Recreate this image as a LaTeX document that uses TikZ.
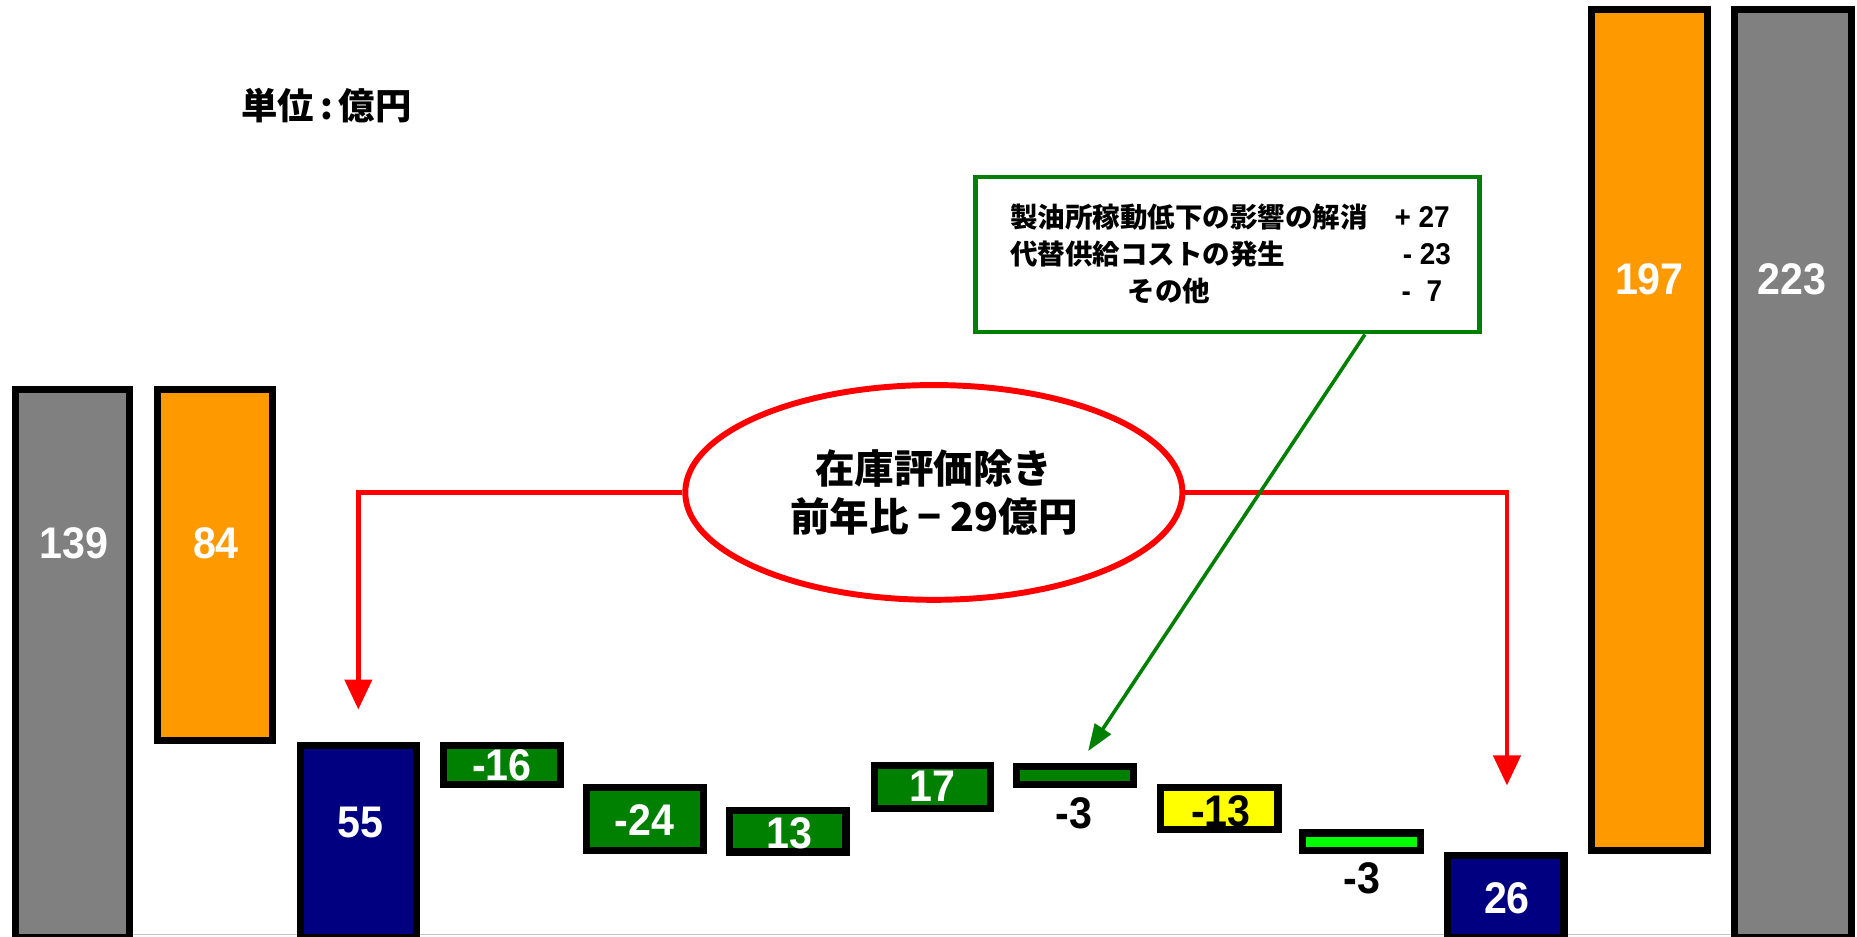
\documentclass[tikz,border=0pt]{standalone}
\usepackage{fontspec}
\setmainfont{Liberation Sans}
\newfontfamily\numf{Liberation Sans}[FakeStretch=0.93]
\newfontfamily\cjk{Noto Sans CJK JP}
\usetikzlibrary{arrows.meta,shapes.geometric,calc}
\definecolor{cgray}{HTML}{808080}
\definecolor{corange}{HTML}{FF9900}
\definecolor{cnavy}{HTML}{000080}
\definecolor{cgreen}{HTML}{008000}
\definecolor{cyellow}{HTML}{FFFF00}
\definecolor{clime}{HTML}{00FF00}
\definecolor{cred}{HTML}{FF0000}
\newcommand{\barbox}[6]{%
  \node[barst, fill=#6, minimum width={(#4-#2-6)*0.75pt}, minimum height={(#5-#3-6)*0.75pt}] (#1) at ({(#2+#4)/2},{(#3+#5)/2}) {};}
\begin{document}
\begin{tikzpicture}[x=0.75pt,y=-0.75pt,
  barst/.style={draw=black, line width=4.5pt, inner sep=0pt, outer sep=0pt},
  numw/.style={font=\numf\bfseries\fontsize{28}{28}\selectfont, text=white, inner sep=0pt},
  numb/.style={font=\numf\bfseries\fontsize{28}{28}\selectfont, text=black, inner sep=0pt},
  boxt/.style={font=\cjk\bfseries\fontsize{17.4}{20}\selectfont, inner sep=0pt},
  boxn/.style={font=\numf\bfseries\fontsize{19}{21}\selectfont, inner sep=0pt},
  redl/.style={draw=cred, line width=3pt},
  grl/.style={draw=cgreen, line width=2.25pt}]
\useasboundingbox[fill=white] (0,0) rectangle (1565,789);
% axis line
\draw[gray!45, line width=0.9pt] (10,787.5) -- (1563,787.5);
% bars
\barbox{g1}{10}{325}{112}{793}{cgray}
\barbox{o1}{130}{325}{233}{627}{corange}
\barbox{n1}{250}{625}{354}{793}{cnavy}
\barbox{d1}{371}{625}{475}{664}{cgreen}
\barbox{d2}{491}{661}{596}{720}{cgreen}
\barbox{d3}{612}{680}{716}{721}{cgreen}
\barbox{d4}{734}{642}{838}{684}{cgreen}
\barbox{d5}{854}{643}{958}{664}{cgreen}
\barbox{d6}{975}{661}{1080}{702}{cyellow}
\barbox{d7}{1095}{699}{1200}{720}{clime}
\barbox{n2}{1217}{718}{1321}{793}{cnavy}
\barbox{o2}{1338}{5}{1442}{720}{corange}
\barbox{g2}{1459}{5}{1563}{793}{cgray}
% bar labels
\node[numw] (lg1) at (62,458) {139};
\node[numw] (lo1) at (182,458) {84};
\node[numw] (ln1) at (304,693) {55};
\node[numw] (ld1) at (423,645) {-16};
\node[numw] (ld2) at (543,691) {-24};
\node[numw] (ld3) at (665,702) {13};
\node[numw] (ld4) at (786,663) {17};
\node[numb] (ld5) at (905,685) {-3};
\node[numb] (ld6) at (1029,684) {-13};
\node[numb] (ld7) at (1148,740) {-3};
\node[numw] (ln2) at (1270,757) {26};
\node[numw] (lo2) at (1390,235) {197};
\node[numw] (lg2) at (1510,235) {223};
% unit
\node[font=\cjk\bfseries\fontsize{23}{25}\selectfont, inner sep=0pt, anchor=west] (unit) at (203,89) {単位\,:\,億円};
% green box
\node[draw=cgreen, line width=2.8pt, fill=white, inner sep=0pt, minimum width={(1249-820-4)*0.75pt}, minimum height={(282-147-4)*0.75pt}] (gbox) at (1034.5,214.5) {};
\node[boxt, anchor=west] (t1) at (851,183) {製油所稼動低下の影響の解消};
\node[boxt, anchor=west] (t2) at (851,214) {代替供給コストの発生};
\node[boxt] (t3) at (985,245) {その他};
\node[boxn, anchor=west] (v1) at (1175,183) {+ 27};
\node[boxn, anchor=west] (v2) at (1182,214) {- 23};
\node[boxn, anchor=west] (v3) at (1181,245) {-\ \ 7};
% red connectors
\coordinate (ltip) at (302,598);
\coordinate (rtip) at (1270,662);
\node[ellipse, draw=cred, line width=3.75pt, fill=white, inner sep=0pt, minimum width={419*0.75pt}, minimum height={181*0.75pt}, align=center, font=\cjk\bfseries\fontsize{25}{30}\selectfont] (ell) at (787,415) {在庫評価除き\\前年比\hspace{0.22em}−\hspace{0.22em}29億円};
\draw[redl, -{Triangle[length=19pt,width=17pt]}] (ell.west) -| (ltip);
\draw[redl, -{Triangle[length=19pt,width=17pt]}] (ell.east) -| (rtip);
% green connector
\coordinate (gtip) at (917,633);
\draw[grl, -{Triangle[length=17pt,width=12pt]}] ($(gbox.south west)!0.77!(gbox.south east)$) -- (gtip);
\end{tikzpicture}
\end{document}
